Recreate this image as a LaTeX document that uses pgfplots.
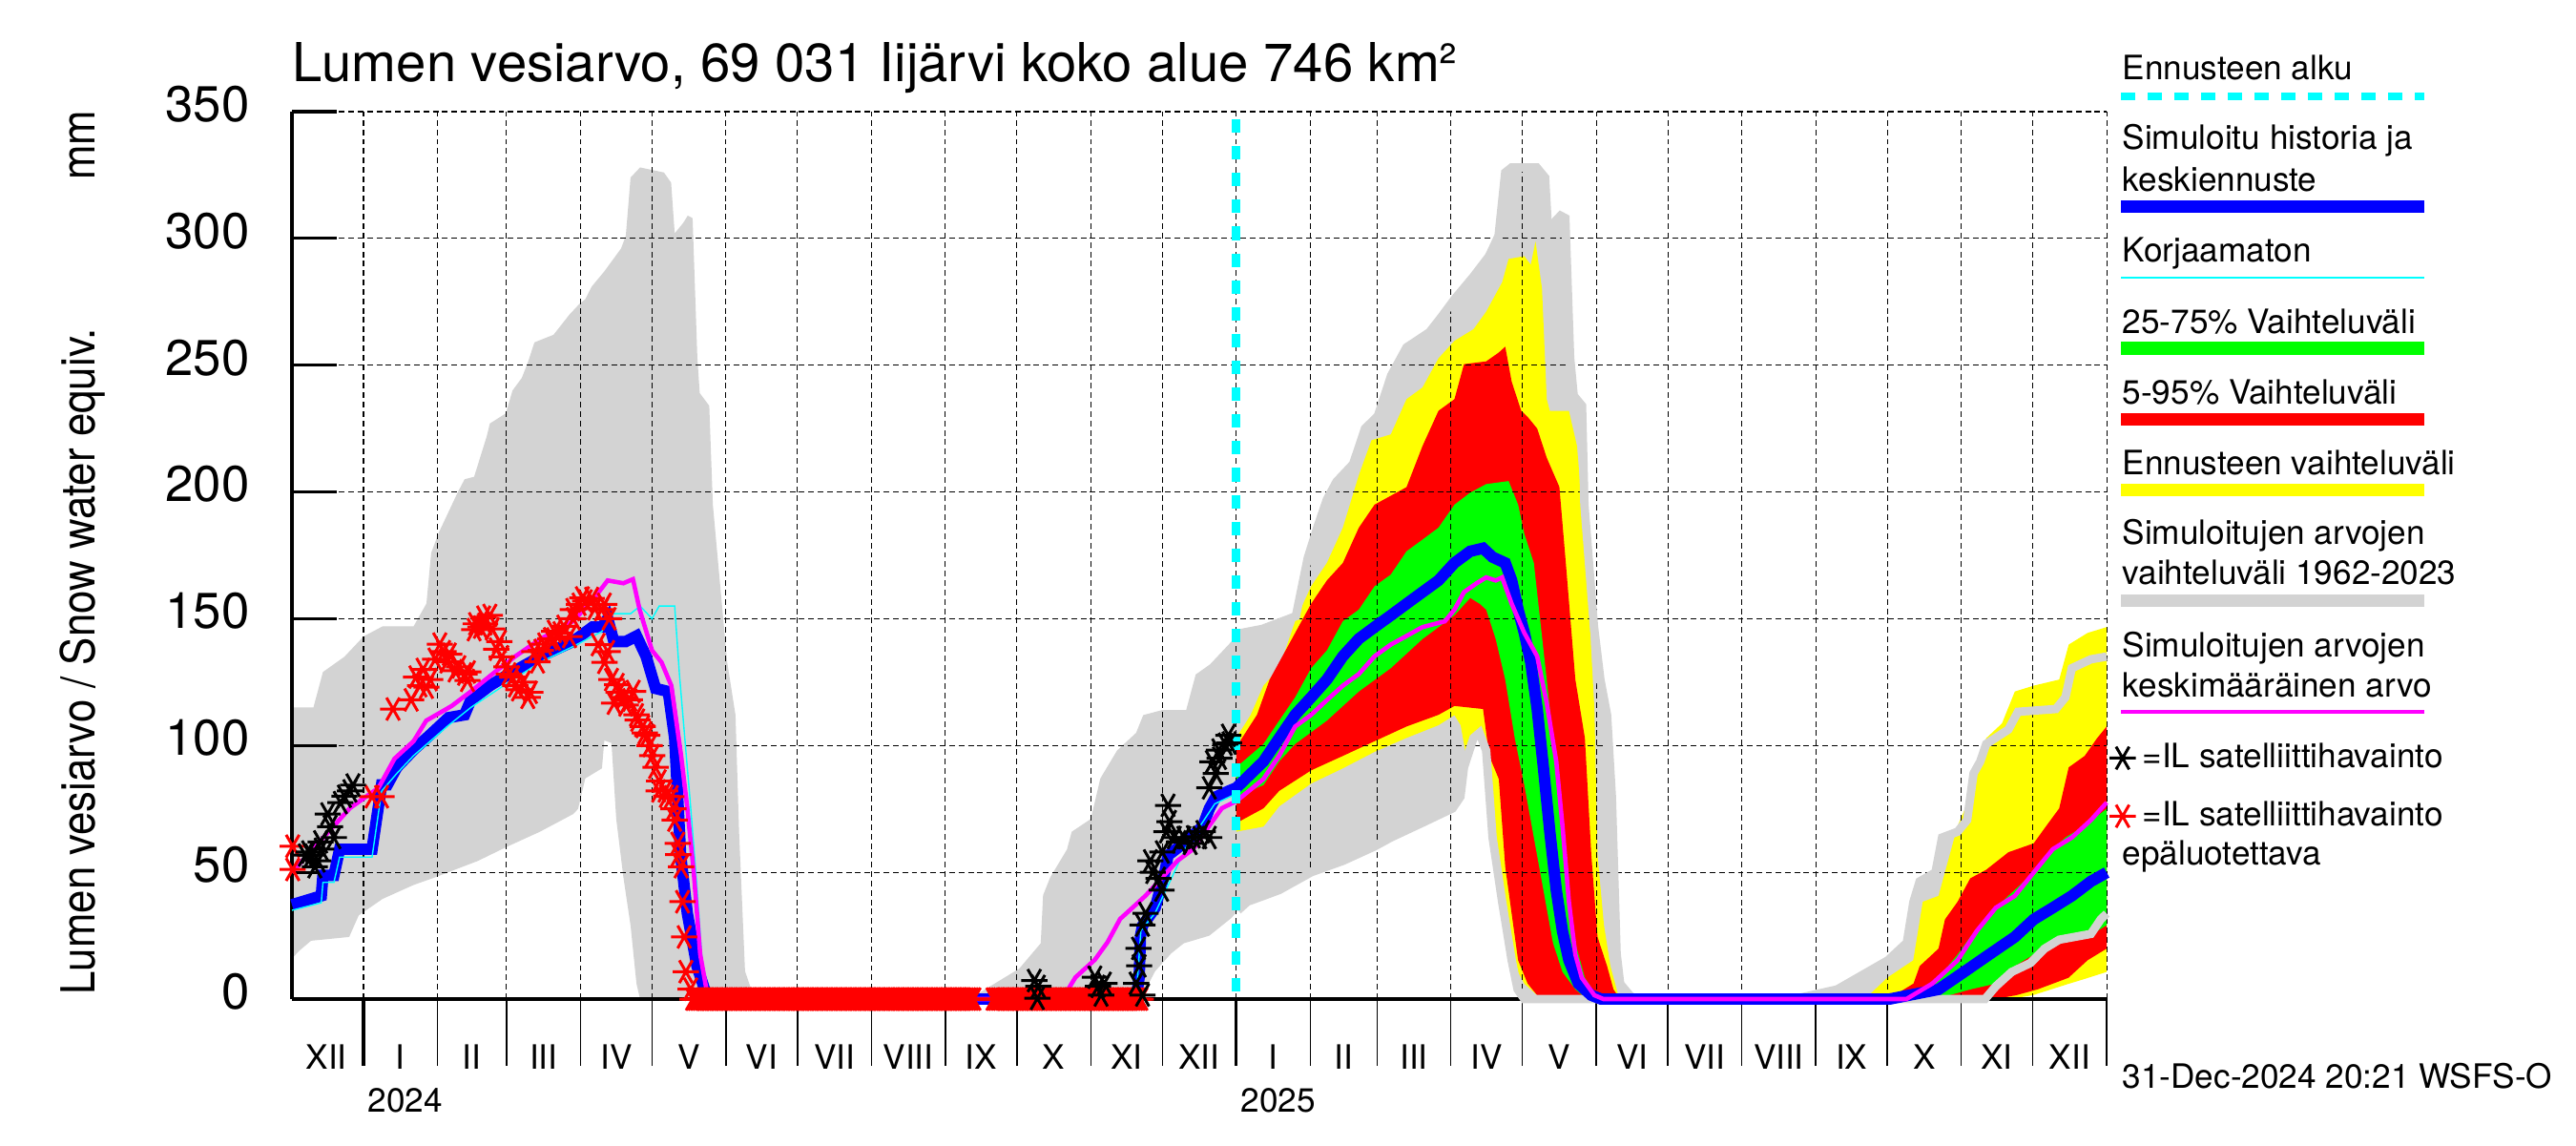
\documentclass[border=0pt]{standalone}
\usepackage{pgfplots}
\pgfplotsset{compat=1.18}
\usepackage{fontspec}
\setmainfont{TeX Gyre Heros}
\usepackage{graphicx}
\definecolor{hgray}{RGB}{211,211,211}
\definecolor{aqua}{RGB}{0,255,255}
\definecolor{fuchsia}{RGB}{255,0,255}
\definecolor{pblue}{RGB}{0,0,255}
\definecolor{pgreen}{RGB}{0,255,0}
\definecolor{pred}{RGB}{255,0,0}
\definecolor{pyellow}{RGB}{255,255,0}
\newcommand\fsz[1]{\fontsize{#1}{#1}\selectfont}
\pgfplotsset{
  frame/.style={at={(3.06cm,1.53cm)}, anchor=south west,
    scale only axis, width=19.02cm, height=9.30cm,
    xmin=-30, xmax=731, ymin=0, ymax=350, clip=false},
  star/.style={only marks, mark=asterisk, mark size=3.9pt, line width=0.85pt,
    mark options={rotate=90}},
}

\begin{document}
\begin{tikzpicture}
\useasboundingbox (0,0) rectangle (27,12);

% areas first, so that the grid of the second axis lies on them
\begin{axis}[frame, hide axis]
% historical range 1962-2023 (grey)
\addplot[fill=hgray, draw=none] coordinates {
(-30,115) (-21,115) (-17,129) (-8,135) (0,143) (8,147) (21,147) (26.4,156) (28.4,176) (31.6,184) (35.6,192) (39.6,200) (42.4,205) (46.4,206) (51.7,222) (53,227) (59.7,231) (62.5,240) (66.4,245) (68.9,251) (71.7,259) (79.7,262) (86.4,270) (90.4,274) (93,276) (95.7,281) (101,287) (108,296) (110,301) (112,324) (116,328) (126,326) (129,322) (130.5,302) (134,306) (136,309) (138,308) (140,253) (141,239) (145,234) (146.5,195) (152.5,133) (156,112) (157.5,66) (160,11) (164,0)
(116,0) (114.5,6) (112,29) (109,48) (106,71) (104,101) (101,102) (100,91) (93,87) (90,75) (88,73) (74,66) (60,60) (48,54.5) (30,48) (21,45) (8,39.5) (-2,33) (-6,24.5) (-22,23) (-27,19) (-30,16)
};
\addplot[fill=hgray, draw=none] coordinates {
(254,0) (261,4) (275,12) (284,22) (285,41) (288,48) (295,59) (297,66) (305,71) (309,87) (316,98) (324,105) (327,112) (335,114) (345,114) (349,128) (355,132) (363,140) (367,144) (377,146) (391,151) (396,174) (400,186) (404,197) (408,204) (415,211) (420,225) (425.4,230) (431,246) (437.4,257) (447,263) (452,269) (457.5,276) (465.5,285) (472,293) (476,301) (478.8,326) (481.5,328) (492,328) (495.5,324) (496.8,302) (500,307) (502,309) (504,308) (506,253) (507.5,238) (511,234) (512,195) (516,147) (518.7,126) (521.5,112) (523.5,80) (525.5,18) (527,6) (531,1.5) (533,0)
(486.8,0) (484,3.8) (481.5,15.3) (477.5,38.4) (473.5,63.7) (470.8,98) (468,105) (465.5,103) (461.5,91.4) (460,79.8) (456.7,75.2) (444,69.5) (430.8,63.7) (424,60.2) (410.7,54.5) (397.4,50) (384,43) (377.4,40.7) (370.7,38.4) (366.7,35) (364,32) (354.7,25) (344,22) (338.7,18) (332,11) (326.7,1.6) (325,0)
};
\addplot[fill=hgray, draw=none] coordinates {
(600,0) (618,3.8) (639.3,15.3) (647.2,22.2) (650,38.4) (652.6,46.4) (659.2,49.9) (662,63.7) (668.5,66) (672.5,70.6) (675.2,89) (678,93.7) (680.5,100.6) (689.8,106.3) (693.8,113.3) (709.7,114.4) (713.7,119) (716.4,130.5) (724.4,134) (731,135.1)
(731,33.7) (728.5,31.4) (724.4,25.7) (711.1,23.4) (705,19.9) (699,14.2) (691.2,10.7) (684.5,5) (680,0)
};
% forecast range (yellow)
\addplot[fill=pyellow, draw=none] coordinates {
(366,103) (372,112) (377.4,123.6) (384,130.5) (390.7,149) (397.4,162.8) (404,172) (410.7,185.9) (417.4,206.6) (422.7,220.4) (430.8,222.7) (437.4,236.6) (444.1,241.2) (450.8,252.7) (457.5,259.6) (465.5,264.2) (470.8,271.1) (477.5,282.7) (480.2,291.9) (486.8,293) (489.5,289.6) (491.5,298.8) (494.2,280.3) (496.2,236.6) (497.5,232) (505.5,232) (508.9,218.1) (510.9,195) (513.5,160.5) (516.2,114.4) (517.5,56.8) (520.2,29.1) (522.9,13) (526.2,1.5) (528,0)
(495,0) (492.2,1.5) (486.8,6.1) (482.8,13) (478.8,33.7) (474.8,63.7) (470.8,91.4) (468.1,103) (465.5,103) (462.8,93.7) (460.1,108) (457.5,112) (450.8,108) (437.4,103) (424,97.5) (410.7,91) (397.4,85) (384,76) (377.4,68) (366,66)
};
\addplot[fill=pyellow, draw=none] coordinates {
(628,0) (631.3,1.5) (639,8.4) (649.9,15.3) (653.9,38.4) (660.5,40.7) (668.5,68.3) (673.8,79.8) (676.5,93.7) (680.5,102.9) (687.1,108.7) (692.5,121.3) (700.4,123.6) (711.1,126) (715.1,139.8) (723,144.4) (731,146.7)
(731,10.7) (722,8) (715,6) (700,1.5) (690,0)
};
% 5-95 % range (red)
\addplot[fill=pred, draw=none] coordinates {
(366,99.4) (374.7,112.1) (380,126) (390.7,144.4) (397.4,155.9) (404,165.1) (410.7,172) (417.4,185.9) (424,195) (437.4,201.9) (444.1,218.1) (450.8,232) (457.5,236.6) (461.5,250.4) (470.8,251.5) (476.1,255) (478.8,257.3) (481.5,243.5) (485.5,232) (488.2,229.6) (492.2,225) (496.2,213.5) (501.5,202) (504.2,172) (508.2,126) (512.2,102.9) (514.9,56.8) (517.5,24.5) (521.5,13) (524.2,3.8) (527,0)
(496,0) (492.2,1.5) (488.2,6.1) (484.2,15.3) (481.5,33.7) (478.8,52.2) (476.1,86.8) (472.1,95.9) (469.5,114.4) (457.5,115.6) (450.8,112.1) (437.4,107.5) (424,101.7) (410.7,95.9) (397.4,90.2) (384,82.1) (377.4,75.2) (366,69.4)
};
\addplot[fill=pred, draw=none] coordinates {
(640,0) (642,1.5) (650,6.1) (652.6,13) (660.5,19.9) (663.2,31.4) (668.5,38.4) (673.8,47.6) (680.5,51) (689.8,57.9) (700.4,61.4) (705.7,68.3) (711.1,75.2) (715.1,91.4) (721.8,95.9) (727,102.9) (731,107.5)
(731,19.9) (723,15.3) (715,8.4) (702,3.8) (693,1.5) (684,0)
};
% 25-75 % range (green)
\addplot[fill=pgreen, draw=none] coordinates {
(366,91.4) (377.4,100.6) (384,109.8) (390.7,119) (397.4,130.5) (404,137.5) (410.7,149) (417.4,153.6) (424,162.8) (430.8,167.4) (437.4,176.6) (444.1,181.2) (450.8,185.9) (457.5,195) (464.1,199.7) (470.8,203.1) (480.2,204.3) (484.2,195) (486.8,183.5) (490.8,172) (493.5,149) (496.2,126) (498.8,102.9) (501.5,79.8) (504.2,47.6) (508.2,22.2) (512.2,8.4) (516.2,2.7) (520,0)
(513,0) (508.2,3.8) (502.8,10.7) (498.8,22.2) (494.8,43) (490.8,63.7) (486.8,84.4) (482.8,102.9) (478.8,126) (474.8,142) (470.8,153.6) (468.1,155.9) (464.1,158.2) (457.5,151.3) (444.1,142) (430.8,130.5) (417.4,121.3) (404,109.8) (390.7,100.6) (384,93.7) (377.4,84.4) (366,79.8)
};
\addplot[fill=pgreen, draw=none] coordinates {
(645,0) (652.6,3.8) (660.5,8.4) (668.5,17.6) (673.8,24.5) (681.8,33.7) (689.8,40.7) (697.7,47.6) (705.7,56.8) (713.7,63.7) (721.7,68.3) (729.7,74.1) (731,75)
(731,29.1) (727,26.8) (713.7,23.4) (700.4,17.6) (692.5,13) (684.5,6.1) (673.8,3.8) (660.5,0.3) (650,0)
};
\end{axis}

\begin{axis}[
    frame,
    axis x line*=bottom, axis y line*=left,
    axis line style={-, line width=0.9pt, black},
    tick pos=left,
    ytick={0,50,...,350},
    xtick={-15.5,15.5,45.5,75.5,106,136.5,167,197.5,228.5,259,289.5,320,350.5,381.5,411,440.5,471,501.5,532,562.5,593.5,624,654.5,685,715.5},
    xticklabels={XII,I,II,III,IV,V,VI,VII,VIII,IX,X,XI,XII,I,II,III,IV,V,VI,VII,VIII,IX,X,XI,XII},
    minor xtick={0,31,60,91,121,152,182,213,244,274,305,335,366,397,425,456,486,517,547,578,609,639,670,700,731},
    ymajorgrids=true, xminorgrids=true,
    major grid style={black, line width=0.3pt, dash pattern=on 1.7pt off 1.1pt},
    minor grid style={black, line width=0.3pt, dash pattern=on 1.7pt off 1.1pt},
    major tick length=0.47cm, minor tick length=0.7cm,
    major x tick style={draw=none},
    minor x tick style={black, line width=0.4pt, yshift=-0.7cm},
    major y tick style={black, line width=0.9pt},
    /pgf/number format/assume math mode=true,
    yticklabel style={font=\fsz{15}, anchor=east, xshift=-0.32cm, yshift=0.08cm},
    xticklabel style={font=\fsz{10}, anchor=center, yshift=-0.605cm},
    legend style={at={(axis description cs:1.0016,0.2882)}, anchor=north west,
        draw=none, fill=none, inner sep=0pt, outer sep=0pt,
        row sep=0.30cm, column sep=0.07cm, font=\fsz{10}, nodes={inner sep=0pt}},
    legend cell align=left,
    legend image code/.code={\draw[#1] plot coordinates {(0cm,0cm)};},
]

% historical envelope drawn over the forecast
\addplot[hgray, line width=2.5pt, forget plot] coordinates {
(366,144) (377,146) (391,151) (396,174) (400,186) (404,197) (408,204) (415,211) (420,225) (425.4,230) (431,246) (437.4,257) (447,263) (452,269) (457.5,276) (465.5,285) (472,293) (476,301) (478.8,326) (481.5,328) (492,328) (495.5,324) (496.8,302) (500,307) (502,309) (504,308) (506,253) (507.5,238) (511,234) (512,195) (516,147) (518.7,126) (521.5,112) (523.5,80) (525.5,18) (527,6) (531,1.5) (533,0) (600,0) (618,3.8) (639.3,15.3) (647.2,22.2) (650,38.4) (652.6,46.4) (659.2,49.9) (662,63.7) (668.5,66) (672.5,70.6) (675.2,89) (678,93.7) (680.5,100.6) (689.8,106.3) (693.8,113.3) (709.7,114.4) (713.7,119) (716.4,130.5) (724.4,134) (731,135.1)
};
\addplot[hgray, line width=2.5pt, forget plot] coordinates {
(366.7,35) (370.7,38.4) (377.4,40.7) (384,43) (397.4,50) (410.7,54.5) (424,60.2) (430.8,63.7) (444,69.5) (456.7,75.2) (460,79.8) (461.5,91.4) (465.5,103) (468,105) (470.8,98) (473.5,63.7) (477.5,38.4) (481.5,15.3) (484,3.8) (486.8,0) (680,0) (684.5,5) (691.2,10.7) (699,14.2) (705,19.9) (711.1,23.4) (724.4,25.7) (728.5,31.4) (731,33.7)
};

% simulated history and mean forecast (blue)
\addplot[pblue, line width=3.4pt, forget plot] coordinates {
(-30,37.2) (-17.7,40.7) (-17,48.8) (-12.4,48.8) (-10,59.1) (3.6,59.1) (7.6,84.5) (10,84.5) (14,91.4) (21,98.3) (27.7,104) (35.7,111) (42.4,112.1) (45,117.9) (53,123.6) (61,128.2) (74.4,135.2) (87.8,141) (96,146.7) (100,146.7) (102.4,150.1) (105,141) (110,141) (114.5,143.2) (118.5,135.2) (122.5,122.5) (127.8,121.3) (130.5,102.9) (133,56.8) (135.8,33.8) (139.8,13.1) (143.8,1.6) (146,0) (324,0) (325.3,8.6) (325.8,24.7) (326.7,29) (332,36) (336,49.8) (337.4,56.7) (345.4,62.5) (352,68.2) (354.7,75.1) (357.4,79.7) (362.7,82) (366,83.3) (377.4,93.7) (384,102.9) (390.7,112.1) (397.4,119) (404,126) (410.7,135.2) (417.4,142.1) (424,146.7) (430.8,151.3) (437.4,155.9) (444.1,160.5) (450.8,165.1) (457.5,172) (464.1,176.6) (469.5,177.8) (473.5,174.3) (478.8,172) (481.5,165.1) (484.2,153.6) (486.8,144.4) (489.5,132.8) (492.2,114.4) (494.8,91.4) (497.5,66) (500.2,43) (502.8,26.8) (505.5,15.3) (509.5,6.1) (514.9,1.5) (519,0) (640,0) (660.5,3.8) (671.2,10.7) (681.8,17.6) (692.5,24.5) (700.4,31.4) (708.4,36) (716.4,40.7) (724.4,46.4) (731,49.9)
};

% uncorrected (thin cyan)
\addplot[aqua, line width=0.4pt, forget plot] coordinates {
(-30,35) (-17.7,38) (-17,46) (-12.4,46) (-10,56) (3.6,56) (7.6,82) (14,89) (21,96) (35.7,108) (45,115) (61,125) (74.4,133) (87.8,139) (100,145) (104,152) (112,152) (116,155) (121,150) (124,155) (130.5,155) (132.5,128) (135,100) (137,78) (139.8,45) (142,15) (145,0) (324,0) (326,27) (332,34) (345,60) (357,77) (366,81)
};

% mean of simulated values (magenta)
\addplot[fuchsia, line width=1.3pt, forget plot] coordinates {
(-30,50) (-5.7,75.3) (6.3,83.3) (13,94.8) (21,101.7) (26.3,109.8) (37,115.6) (45,121.3) (55.7,129.4) (63.7,135.2) (74.4,142.1) (87.8,149) (95.8,157) (102.4,165.1) (109,164) (113,165.6) (115.8,153.6) (121,137.5) (125,132.8) (129.1,123.6) (133.2,96) (135.8,75.3) (138.5,50) (141.2,17.7) (143.8,3.9) (146,0) (293,0) (298.6,8.6) (306.7,15.5) (312,22.4) (317.3,31.6) (322.7,36.2) (328,40.8) (334.7,47.7) (341.4,54.6) (348,59.2) (354.7,68.4) (360,75.3) (366,78) (377.4,86.8) (384,96) (390.7,107.5) (397.4,112.1) (404,117.9) (410.7,123.6) (417.4,128.2) (424,135.2) (430.8,139.8) (437.4,143.2) (444.1,146.7) (453.5,149) (457.5,153.6) (461.5,160.5) (466.8,164) (470.8,166.3) (474.8,165.1) (477.5,166.3) (481.5,155.9) (486.8,144.4) (492.2,135.2) (496.2,116.7) (500.2,93.7) (502.8,68.3) (505.5,38.4) (508.2,17.6) (510.9,8.4) (516.2,1.5) (520,0) (647,0) (657.9,6.1) (668.5,15.3) (676.5,26.8) (684.5,36) (692.5,40.7) (700.4,49.9) (708.4,59.1) (716.4,63.7) (724.4,70.6) (731,77.5)
};

% satellite observations, unreliable (red asterisks)
\addplot[star, pred, forget plot] coordinates {
(-29.7,60.3) (-29.7,51.1) (3.6,79.8) (7.6,79.8) (12.4,114.4) (23.7,123.6) (26.4,123) (28,126) (33.6,137) (35,133) (38.4,129.5) (42.4,128.2) (43.6,125.7) (46.4,145.7) (49,146.7) (50.4,150.6) (53,151.3) (55.7,138) (57,141) (61,128.2) (62.5,127) (63.7,123.6) (68.9,119) (71.7,137) (74.4,137.5) (78.4,142.1) (79.7,142) (82.4,144.4) (86.4,143) (87.8,153.6) (90.4,155.7) (91.8,158.2) (95.7,158) (99.8,153.6) (101,155.7) (98.4,139.8) (101.1,132.8) (102.4,137) (104,126) (105.1,116.7) (106.4,124) (109.1,119) (111.7,118) (113.1,121.3) (114.5,112.1) (117.1,107.5) (119,104) (121.1,96) (122.5,91.4) (123.8,82.1) (126.5,82.1) (129.1,79.8) (130.5,70.6) (131.8,61.4) (133.2,52.2) (133.8,38.4) (134.5,24.5) (135.2,10.8) (137.2,3.9)
(20,118) (22,127) (25,130) (30,134) (32,140) (36,136) (40,131) (44,129) (47,148) (51,148) (54,146) (58,135) (60,131) (65,122) (67,125) (70,121) (73,133) (76,140) (80,145) (84,147) (88,150) (93,157) (97,154) (103,150) (107,121) (110,116) (115,110) (118,105) (120,100) (124,86) (127,80) (130,75) (132,57)
(138,0) (139,0) (140,0) (141,0) (142,0) (143,0) (144,0) (145,0) (146,0) (147,0)
(148,0) (149,0) (150,0) (151,0) (152,0) (153,0) (154,0) (155,0) (156,0) (157,0)
(158,0) (159,0) (160,0) (161,0) (162,0) (163,0) (164,0) (165,0) (166,0) (167,0)
(168,0) (169,0) (170,0) (171,0) (172,0) (173,0) (174,0) (175,0) (176,0) (177,0)
(178,0) (179,0) (180,0) (181,0) (182,0) (183,0) (184,0) (185,0) (186,0) (187,0)
(188,0) (189,0) (190,0) (191,0) (192,0) (193,0) (194,0) (195,0) (196,0) (197,0)
(198,0) (199,0) (200,0) (201,0) (202,0) (203,0) (204,0) (205,0) (206,0) (207,0)
(208,0) (209,0) (210,0) (211,0) (212,0) (213,0) (214,0) (215,0) (216,0) (217,0)
(218,0) (219,0) (220,0) (221,0) (222,0) (223,0) (224,0) (225,0) (226,0) (227,0)
(228,0) (229,0) (230,0) (231,0) (232,0) (233,0) (234,0) (235,0) (236,0) (237,0)
(238,0) (239,0) (240,0) (241,0) (242,0) (243,0) (244,0) (245,0) (246,0) (247,0)
(248,0) (249,0) (250,0) (251,0) (252,0) (253,0) (254,0) (255,0) (256,0)
(264,0) (265,0) (266,0) (267,0) (268,0) (269,0) (270,0) (271,0) (272,0) (273,0)
(274,0) (275,0) (276,0) (277,0) (278,0) (279,0) (280,0) (281,0) (282,0) (283,0)
(284,0) (285,0) (286,0) (287,0) (288,0) (289,0) (290,0) (291,0) (292,0) (293,0)
(294,0) (295,0) (296,0) (297,0) (298,0) (299,0) (300,0) (301,0) (302,0) (303,0)
(304,0) (305,0) (306,0) (307,0) (308,0) (309,0) (310,0) (311,0) (312,0) (313,0)
(314,0) (315,0) (316,0) (317,0) (318,0) (319,0) (320,0) (321,0) (322,0) (323,0)
(324,0) (325,0) (326,0)
};

% satellite observations (black asterisks)
\addplot[star, black, forget plot] coordinates {
(-24.4,56.8) (-21.7,56.8) (-20.4,52.2) (-19,54.5) (-17.7,59.1) (-15,73) (-12.4,63.7) (-9.7,77.5) (-5.7,82.1) (-4.4,84.4)
(-23,58) (-18,62) (-14,68) (-8,80)
(281.3,7.3) (282.6,0.3) (283,5) (306.7,8.6) (308,5) (309.3,1.6) (310.7,6.2) (324,6.2) (325,20) (325.3,13.1) (326.7,1.6) (328,33.8) (326.7,29.2) (330,54.5) (331,50) (333.4,47.6) (334.7,43) (335,58) (337.4,76.4) (336.7,66) (338,70) (340,63.7) (342,62) (344,63.7) (346.7,61.4) (348,64) (350.7,63.7) (352,66) (354.7,63.7) (354.7,83.3) (356,93.6) (358.7,98.2) (359,95) (361.4,100.5) (362.7,104) (363,101) (357.4,89)
};

% start of forecast
\addplot[aqua, line width=2.6pt, dash pattern=on 4pt off 4pt, forget plot] coordinates {(366,347) (366,0)};

\draw[line width=0.9pt] (axis cs:0,0) -- ++(0pt,-0.7cm);
\draw[line width=0.9pt] (axis cs:366,0) -- ++(0pt,-0.7cm);
\node[anchor=base west, inner sep=0pt, font=\fsz{10}, xshift=0.04cm, yshift=-1.18cm] at (axis cs:0,0) {2024};
\node[anchor=base west, inner sep=0pt, font=\fsz{10}, xshift=0.04cm, yshift=-1.18cm] at (axis cs:366,0) {2025};

\addlegendimage{star, black}
\addlegendentry{=IL satelliittihavainto}
\addlegendimage{star, pred}
\addlegendentry{=IL satelliittihavainto}
\end{axis}

% title and axis label
\node[anchor=base west, inner sep=0pt, font=\fsz{16}] at (3.06,11.14) {Lumen vesiarvo, 69 031 Iijärvi koko alue 746 km²};
\node[rotate=90, anchor=base west, inner sep=0pt, font=\fsz{14}] at (0.99,1.57) {\scalebox{0.89}[1]{Lumen vesiarvo / Snow water equiv.}};
\node[rotate=90, anchor=base east, inner sep=0pt, font=\fsz{14}] at (0.99,10.85) {\scalebox{0.89}[1]{mm}};

% key
\begin{scope}[every node/.style={anchor=base west, inner sep=0pt, font=\fsz{10}}]
\node at (22.24,11.16) {Ennusteen alku};
\draw[aqua, line width=0.8mm, dash pattern=on 1.5mm off 1.3mm] (22.23,10.99) -- (25.41,10.99);
\node at (22.24,10.43) {Simuloitu historia ja};
\node at (22.24,9.99) {keskiennuste};
\draw[pblue, line width=1.3mm] (22.23,9.83) -- (25.41,9.83);
\node at (22.24,9.25) {Korjaamaton};
\draw[aqua, line width=0.3pt] (22.23,9.09) -- (25.41,9.09);
\node at (22.24,8.51) {25-75\% Vaihteluväli};
\draw[pgreen, line width=1.3mm] (22.23,8.35) -- (25.41,8.35);
\node at (22.24,7.77) {5-95\% Vaihteluväli};
\draw[pred, line width=1.3mm] (22.23,7.605) -- (25.41,7.605);
\node at (22.24,7.025) {Ennusteen vaihteluväli};
\draw[pyellow, line width=1.3mm] (22.23,6.865) -- (25.41,6.865);
\node at (22.24,6.30) {Simuloitujen arvojen};
\node at (22.24,5.88) {vaihteluväli 1962-2023};
\draw[hgray, line width=1.3mm] (22.23,5.705) -- (25.41,5.705);
\node at (22.24,5.12) {Simuloitujen arvojen};
\node at (22.24,4.70) {keskimääräinen arvo};
\draw[fuchsia, line width=0.45mm] (22.23,4.54) -- (25.41,4.54);
\node at (22.24,2.94) {epäluotettava};
\node at (22.24,0.60) {31-Dec-2024 20:21 WSFS-O};
\end{scope}
\end{tikzpicture}
\end{document}
